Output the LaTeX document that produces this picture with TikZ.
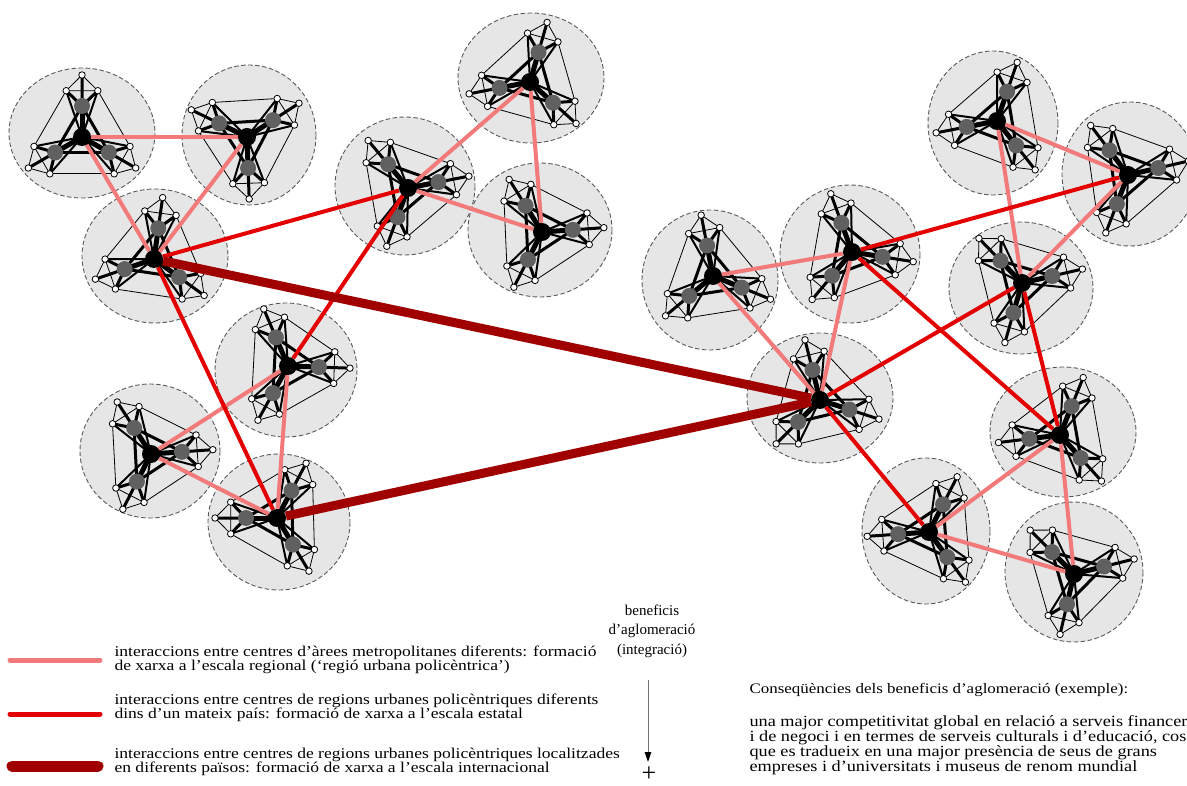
\documentclass[tikz,border=0pt]{standalone}
\usepackage{fontspec}
\setmainfont{Liberation Serif}
\newfontfamily\widefont[FakeStretch=1.17]{Liberation Serif}
\usetikzlibrary{arrows.meta}

\definecolor{regional}{RGB}{242,122,122}
\definecolor{estatal}{RGB}{228,0,0}
\definecolor{internac}{RGB}{160,0,0}
\definecolor{halofill}{RGB}{230,230,230}
\definecolor{hubgray}{RGB}{96,96,96}

\pgfdeclarelayer{halo}
\pgfdeclarelayer{towns}
\pgfdeclarelayer{links}
\pgfdeclarelayer{front}
\pgfsetlayers{halo,main,towns,links,front}

\tikzset{
  areaedge/.style={draw=black!65, fill=halofill, line width=0.9pt, dash pattern=on 4.5pt off 2.5pt},
  centre/.style={circle, fill=black, inner sep=0pt, minimum size=18pt},
  subcentre/.style={circle, fill=hubgray, inner sep=0pt, minimum size=16pt},
  town/.style={circle, draw=black, fill=white, line width=0.8pt, inner sep=0pt, minimum size=6.5pt},
  core/.style={line width=5pt, line cap=round},
  spoke/.style={line width=3pt, line cap=round},
  fan/.style={line width=2pt, line cap=round},
  link/.style={line width=0.8pt, line join=round},
  regline/.style={regional, line width=4pt},
  estline/.style={estatal, line width=4pt},
  intline/.style={internac, line width=9pt},
  legtext/.style={anchor=west, align=left, font=\widefont\fontsize{15}{14}\selectfont},
}

% one metropolitan area: black centre, three grey sub-centres, each with three small towns
% #1 name, #2 position, #3-#5 directions of the sub-centres (ascending)
\newcommand\metro[5]{%
  \begin{pgfonlayer}{front}
    \node[centre] (#1) at (#2) {};
  \end{pgfonlayer}
  \begin{pgfonlayer}{towns}
    \foreach \k/\a in {1/#3,2/#4,3/#5}{
      \path (#1.center) ++(\a:31) node[subcentre] (#1-\k) {}
        ++(\a:31) node[town] (#1-\k-o) {};
      \path (#1-\k.center) ++({\a-46}:22) node[town] (#1-\k-a) {};
      \path (#1-\k.center) ++({\a+46}:22) node[town] (#1-\k-b) {};
    }
  \end{pgfonlayer}
  \foreach \k/\n in {1/2,2/3,3/1}{
    \draw[core] (#1.center) -- (#1-\k.center);
    \draw[spoke] (#1-\k.center) -- (#1-\n.center);
    \draw[spoke] (#1-\k.center) -- (#1-\k-o.center)
                 (#1-\k.center) -- (#1-\k-a.center)
                 (#1-\k.center) -- (#1-\k-b.center);
    \draw[fan] (#1.center) -- (#1-\k-a.center)
               (#1.center) -- (#1-\k-b.center);
    \draw[link] (#1-\k-a.center) -- (#1-\k-o.center) -- (#1-\k-b.center) -- cycle;
    \draw[link] (#1-\k-b.center) -- (#1-\n-a.center);
  }
}

\begin{document}
\begin{tikzpicture}[x=1pt,y=-1pt]
\useasboundingbox (0,0) rectangle (1187,786);

% areas
\begin{pgfonlayer}{halo}
  \foreach \x/\y/\rx/\ry in {
     82/133/73/65, 249/135/67/70, 531/78/73/65, 405/186/70/69,
     540/230/72/67, 155/256/73/67, 286/370/71/67, 150/451/70/67,
     279/522/71/68, 820/398/73/65, 710/280/68/70, 850/254/70/69,
     993/123/65/72, 1130/174/68/72, 1021/288/72/66, 1063/432/73/65,
     926/531/64/73, 1074/572/69/70}
    \draw[areaedge] (\x,\y) ellipse [x radius=\rx, y radius=\ry];
\end{pgfonlayer}

% metropolitan areas
\metro{A}{82,137}{-90}{30}{150}
\metro{B}{247,137}{-154}{-33}{88}
\metro{C}{530,82}{-74}{42}{169}
\metro{D}{408,188}{-130}{-11}{110}
\metro{E}{542,232}{-122}{-4}{117}
\metro{F}{154,259}{-82}{36}{161}
\metro{G}{288,366}{-113}{2}{119}
\metro{H}{151,454}{-123}{-4}{117}
\metro{I}{277,518}{-62}{59}{180}
\metro{J}{820,400}{-104}{18}{135}
\metro{K}{713,276}{-101}{22}{140}
\metro{L}{852,252}{-110}{9}{130}
\metro{M}{997,121}{-71}{52}{169}
\metro{N}{1128,175}{-127}{-13}{111}
\metro{O}{1022,283}{-134}{-13}{106}
\metro{P}{1060,435}{-68}{48}{173}
\metro{Q}{929,532}{-63}{54}{176}
\metro{R}{1074,574}{-135}{-14}{103}

% interactions
\begin{pgfonlayer}{links}
  \foreach \u/\v in {A/B, A/F, B/F, C/D, C/E, D/E, G/H, H/I, G/I,
                     K/L, K/J, L/J, M/N, M/O, N/O, P/Q, Q/R, P/R}
    \draw[regline] (\u) -- (\v);
  \foreach \u/\v in {F/D, F/I, G/D, L/N, J/O, L/P, O/P, J/Q}
    \draw[estline] (\u) -- (\v);
  \foreach \u/\v in {F/J, I/J}
    \draw[intline] (\u) -- (\v);
\end{pgfonlayer}

% legend
\coordinate (k1a) at (10,660);  \coordinate (k1b) at (100,660);
\coordinate (k2a) at (10,714);  \coordinate (k2b) at (100,714);
\coordinate (k3a) at (12,766);  \coordinate (k3b) at (98,766);
\draw[regline, line width=5pt, line cap=round] (k1a) -- (k1b);
\draw[estline, line width=5pt, line cap=round] (k2a) -- (k2b);
\draw[intline, line width=11pt, line cap=round] (k3a) -- (k3b);

\node[legtext] (t1) at (111,660) {interaccions entre centres d’àrees metropolitanes diferents: formació\\de xarxa a l’escala regional (‘regió urbana policèntrica’)};
\node[legtext] (t2) at (111,708) {interaccions entre centres de regions urbanes policèntriques diferents\\dins d’un mateix país: formació de xarxa a l’escala estatal};
\node[legtext] (t3) at (111,762) {interaccions entre centres de regions urbanes policèntriques localitzades\\en diferents països: formació de xarxa a l’escala internacional};

% agglomeration benefits
\node[align=center, font=\fontsize{15}{19.5}\selectfont] (ben) at (652,631) {beneficis\\d’aglomeració\\(integració)};
\coordinate (arrtop) at (648,680);
\coordinate (arrend) at (648,762);
\draw[black!55, line width=1pt, -{Triangle[length=10pt,width=6.5pt,fill=black,color=black]}] (arrtop) -- (arrend);
\node[font=\fontsize{26}{26}\selectfont, inner sep=0pt] (plus) at (649,774) {+};

\node[legtext, font=\widefont\fontsize{14.5}{14}\selectfont] (c1) at (746,690) {Conseqüències dels beneficis d’aglomeració (exemple):};
\node[legtext, font=\widefont\fontsize{15.6}{14}\selectfont] (c2) at (746,745) {una major competitivitat global en relació a serveis financer\\i de negoci i en termes de serveis culturals i d’educació, cos\\que es tradueix en una major presència de seus de grans\\empreses i d’universitats i museus de renom mundial};
\end{tikzpicture}
\end{document}
